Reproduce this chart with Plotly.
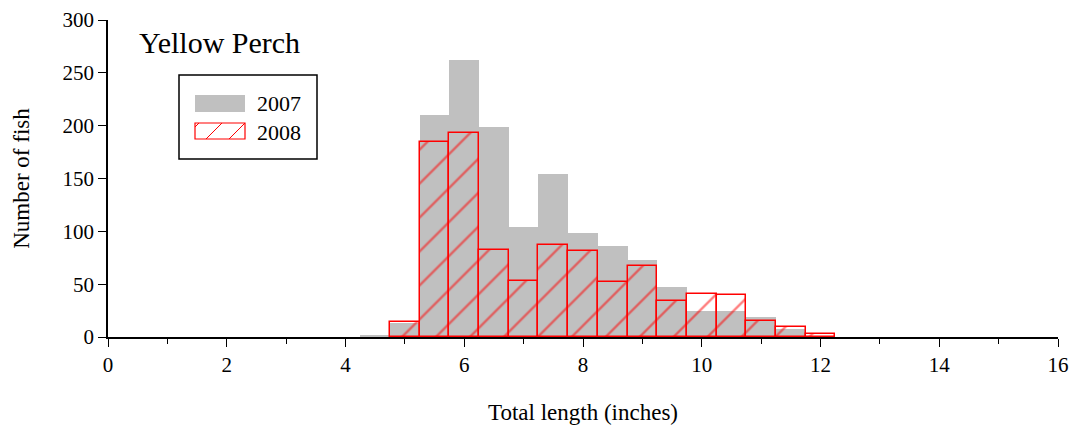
import plotly.graph_objects as go

bin_centers = [4.5, 5.0, 5.5, 6.0, 6.5, 7.0, 7.5, 8.0, 8.5, 9.0, 9.5, 10.0, 10.5, 11.0, 11.5, 12.0]
counts_2007 = [1, 13, 210, 262, 199, 104, 154, 98, 86, 73, 47, 25, 25, 19, 8, 0]
counts_2008 = [None, 14, 185, 193, 82, 53, 87, 81, 52, 67, 34, 41, 40, 15, 9, 3]
x_ticks = [0, 2, 4, 6, 8, 10, 12, 14, 16]
y_ticks = [0, 50, 100, 150, 200, 250, 300]
series_names = ["2007", "2008"]

FONT = "Liberation Serif, Times New Roman, serif"
RED = "#ff0000"
GRAY = "#c0c0c0"

PX0, PX1, PY0, PY1 = 108, 1058, 20, 337


def px(xp):
    return (xp - PX0) / (PX1 - PX0)


def py(yp):
    return (PY1 - yp) / (PY1 - PY0)


fig = go.Figure()
fig.add_trace(go.Bar(
    x=bin_centers, y=counts_2007, width=0.5, name=series_names[0], showlegend=False,
    marker=dict(color=GRAY, line=dict(width=0)),
))
fig.add_trace(go.Bar(
    x=bin_centers, y=counts_2008, width=0.5, name=series_names[1], showlegend=False,
    marker=dict(color="rgba(0,0,0,0)", line=dict(color=RED, width=1.5),
                pattern=dict(shape="/", fgcolor=RED, bgcolor="rgba(0,0,0,0)",
                             size=24, solidity=0.1, fillmode="overlay")),
))

shapes = []
# legend box
shapes.append(dict(type="rect", xref="paper", yref="paper",
                   x0=px(179), x1=px(317), y0=py(159), y1=py(75),
                   line=dict(color="black", width=1.5), fillcolor="white", layer="above"))
# 2007 swatch
shapes.append(dict(type="rect", xref="paper", yref="paper",
                   x0=px(195), x1=px(245), y0=py(112), y1=py(95),
                   line=dict(width=0), fillcolor=GRAY, layer="above"))
# 2008 swatch
shapes.append(dict(type="rect", xref="paper", yref="paper",
                   x0=px(195), x1=px(245), y0=py(139), y1=py(123),
                   line=dict(color=RED, width=1.2), fillcolor="rgba(0,0,0,0)", layer="above"))
for (a, b, c, d) in [(195, 127, 199, 123), (206, 139, 222, 123), (229, 139, 245, 123)]:
    shapes.append(dict(type="line", xref="paper", yref="paper",
                       x0=px(a), y0=py(b), x1=px(c), y1=py(d),
                       line=dict(color=RED, width=1), layer="above"))

annotations = [
    dict(text="Yellow Perch", xref="paper", yref="paper", x=px(137), y=py(42),
         xanchor="left", yanchor="middle", showarrow=False,
         font=dict(family=FONT, size=30, color="black")),
    dict(text=series_names[0], xref="paper", yref="paper", x=px(255), y=py(103),
         xanchor="left", yanchor="middle", showarrow=False,
         font=dict(family=FONT, size=22, color="black")),
    dict(text=series_names[1], xref="paper", yref="paper", x=px(255), y=py(132),
         xanchor="left", yanchor="middle", showarrow=False,
         font=dict(family=FONT, size=22, color="black")),
]

fig.update_layout(
    width=1073, height=432,
    margin=dict(l=108, r=15, t=20, b=95, autoexpand=False),
    barmode="overlay", bargap=0,
    plot_bgcolor="white", paper_bgcolor="white",
    font=dict(family=FONT, size=21, color="black"),
    showlegend=False,
    shapes=shapes,
    annotations=annotations,
)
fig.update_xaxes(range=[0, 16], tickvals=x_ticks, ticks="outside", ticklen=8,
                 tickwidth=1, tickcolor="black", showline=True, linecolor="black",
                 linewidth=1.5, showgrid=False, zeroline=False,
                 minor=dict(dtick=1, ticks="outside", ticklen=5, tickcolor="black", tickwidth=1),
                 title=dict(text="Total length (inches)", font=dict(family=FONT, size=23), standoff=28),
                 tickfont=dict(family=FONT, size=21), automargin=False)
fig.update_yaxes(range=[0, 300], tickvals=y_ticks, ticks="outside", ticklen=8,
                 tickwidth=1, tickcolor="black", showline=True, linecolor="black",
                 linewidth=1.5, showgrid=False, zeroline=False,
                 title=dict(text="Number of fish", font=dict(family=FONT, size=23), standoff=26),
                 tickfont=dict(family=FONT, size=21), automargin=False)

fig.write_html("out.html",
               config={"displayModeBar": False},
               post_script="document.body.style.margin='0';document.body.style.overflow='hidden';")
